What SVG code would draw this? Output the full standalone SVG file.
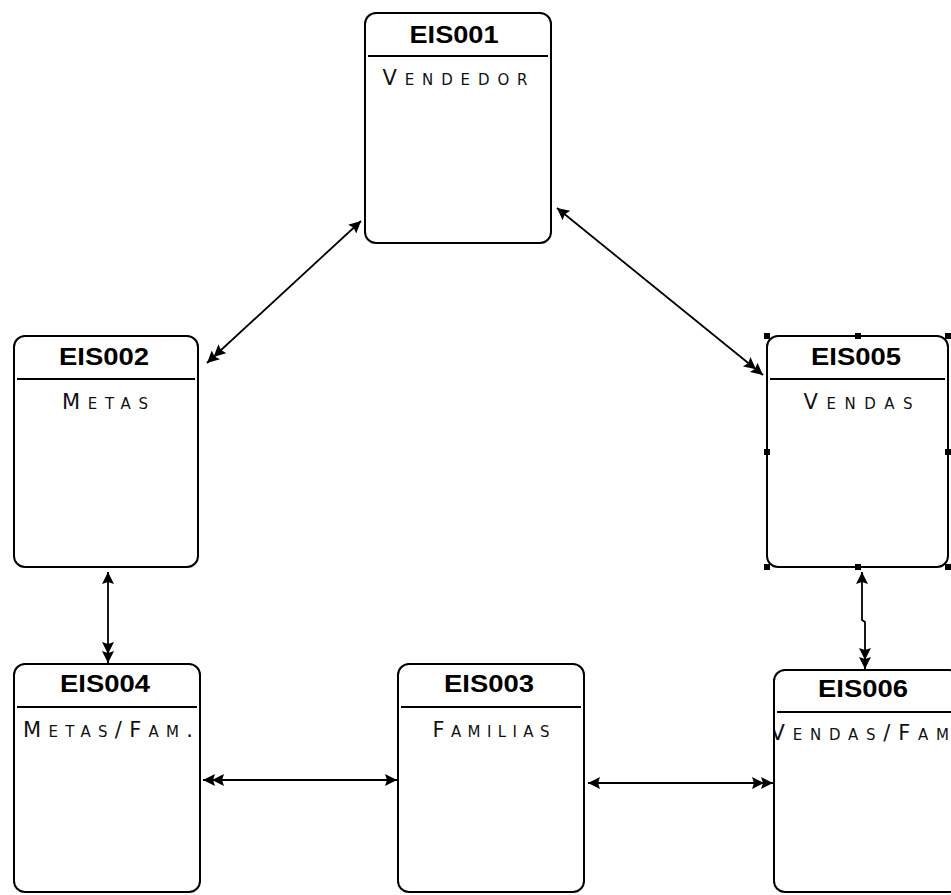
<svg xmlns="http://www.w3.org/2000/svg" width="951" height="895" viewBox="0 0 951 895">
<style>
.box{fill:#fff;stroke:#000;stroke-width:2}
.div{stroke:#000;stroke-width:2}
.title{font-family:"Liberation Sans",Arial,sans-serif;font-weight:bold;font-size:24px;text-anchor:middle;fill:#000}
.sub{font-family:"DejaVu Sans","Liberation Sans",sans-serif;font-variant:small-caps;font-size:21px;text-anchor:middle;fill:#111}
.conn{fill:none;stroke:#000;stroke-width:1.8}
.h{fill:#000}
</style>
<defs>
<marker id="a1" viewBox="0 0 12 12" refX="12" refY="6" markerWidth="12" markerHeight="12" markerUnits="userSpaceOnUse" orient="auto-start-reverse"><path d="M0,0 L12,6 L0,12 L2,6 z" fill="#000"/></marker>
<marker id="a2" viewBox="0 0 21 12" refX="21" refY="6" markerWidth="21" markerHeight="12" markerUnits="userSpaceOnUse" orient="auto-start-reverse"><path d="M0,0 L12,6 L0,12 L2,6 z M9,0 L21,6 L9,12 L11,6 z" fill="#000"/></marker>
<clipPath id="c6"><rect x="775" y="671" width="185" height="220"/></clipPath>
</defs>
<g id="connectors">
<line class="conn" x1="361" y1="221" x2="207" y2="363" marker-start="url(#a1)" marker-end="url(#a2)"/>
<line class="conn" x1="557" y1="208" x2="763" y2="375" marker-start="url(#a1)" marker-end="url(#a2)"/>
<line class="conn" x1="108" y1="572" x2="108" y2="663" marker-start="url(#a1)" marker-end="url(#a2)"/>
<polyline class="conn" points="862,572 862,620 865,622 865,669" marker-start="url(#a1)" marker-end="url(#a2)"/>
<line class="conn" x1="397" y1="780" x2="203" y2="780" marker-start="url(#a1)" marker-end="url(#a2)"/>
<line class="conn" x1="588" y1="783" x2="773" y2="783" marker-start="url(#a1)" marker-end="url(#a2)"/>
</g>
<g id="EIS001">
<rect class="box" x="365" y="13" width="186" height="230" rx="11"/>
<line class="div" x1="368" y1="56" x2="548" y2="56"/>
<text class="title" x="454" y="43" textLength="89" lengthAdjust="spacingAndGlyphs">EIS001</text>
<text class="sub" x="455" y="85" textLength="145" lengthAdjust="spacing">Vendedor</text>
</g>
<g id="EIS002">
<rect class="box" x="14" y="336" width="184" height="231" rx="11"/>
<line class="div" x1="17" y1="379" x2="195" y2="379"/>
<text class="title" x="104" y="365" textLength="90" lengthAdjust="spacingAndGlyphs">EIS002</text>
<text class="sub" x="105" y="409" textLength="86" lengthAdjust="spacing">Metas</text>
</g>
<g id="EIS005">
<rect class="box" x="767" y="336" width="181" height="231" rx="11"/>
<line class="div" x1="770" y1="379" x2="945" y2="379"/>
<text class="title" x="856" y="365" textLength="90" lengthAdjust="spacingAndGlyphs">EIS005</text>
<text class="sub" x="858" y="409" textLength="109" lengthAdjust="spacing">Vendas</text>
<rect class="h" x="764" y="333" width="6" height="6"/>
<rect class="h" x="855" y="333" width="6" height="6"/>
<rect class="h" x="945" y="333" width="6" height="6"/>
<rect class="h" x="764" y="449" width="6" height="6"/>
<rect class="h" x="945" y="449" width="6" height="6"/>
<rect class="h" x="764" y="564" width="6" height="6"/>
<rect class="h" x="855" y="564" width="6" height="6"/>
<rect class="h" x="945" y="564" width="6" height="6"/>
</g>
<g id="EIS004">
<rect class="box" x="14" y="664" width="186" height="228" rx="11"/>
<line class="div" x1="17" y1="707" x2="197" y2="707"/>
<text class="title" x="105" y="692" textLength="90" lengthAdjust="spacingAndGlyphs">EIS004</text>
<text class="sub" x="108" y="737" textLength="170" lengthAdjust="spacing">Metas/Fam.</text>
</g>
<g id="EIS003">
<rect class="box" x="398" y="664" width="186" height="228" rx="11"/>
<line class="div" x1="401" y1="707" x2="581" y2="707"/>
<text class="title" x="489" y="692" textLength="90" lengthAdjust="spacingAndGlyphs">EIS003</text>
<text class="sub" x="491" y="737" textLength="117" lengthAdjust="spacing">Familias</text>
</g>
<g id="EIS006">
<rect class="box" x="774" y="670" width="186" height="222" rx="11"/>
<line class="div" x1="777" y1="712" x2="957" y2="712"/>
<text class="title" x="863" y="697" textLength="90" lengthAdjust="spacingAndGlyphs">EIS006</text>
<text class="sub" x="867" y="740" textLength="193" lengthAdjust="spacing" clip-path="url(#c6)">Vendas/Fam.</text>
</g>
</svg>
